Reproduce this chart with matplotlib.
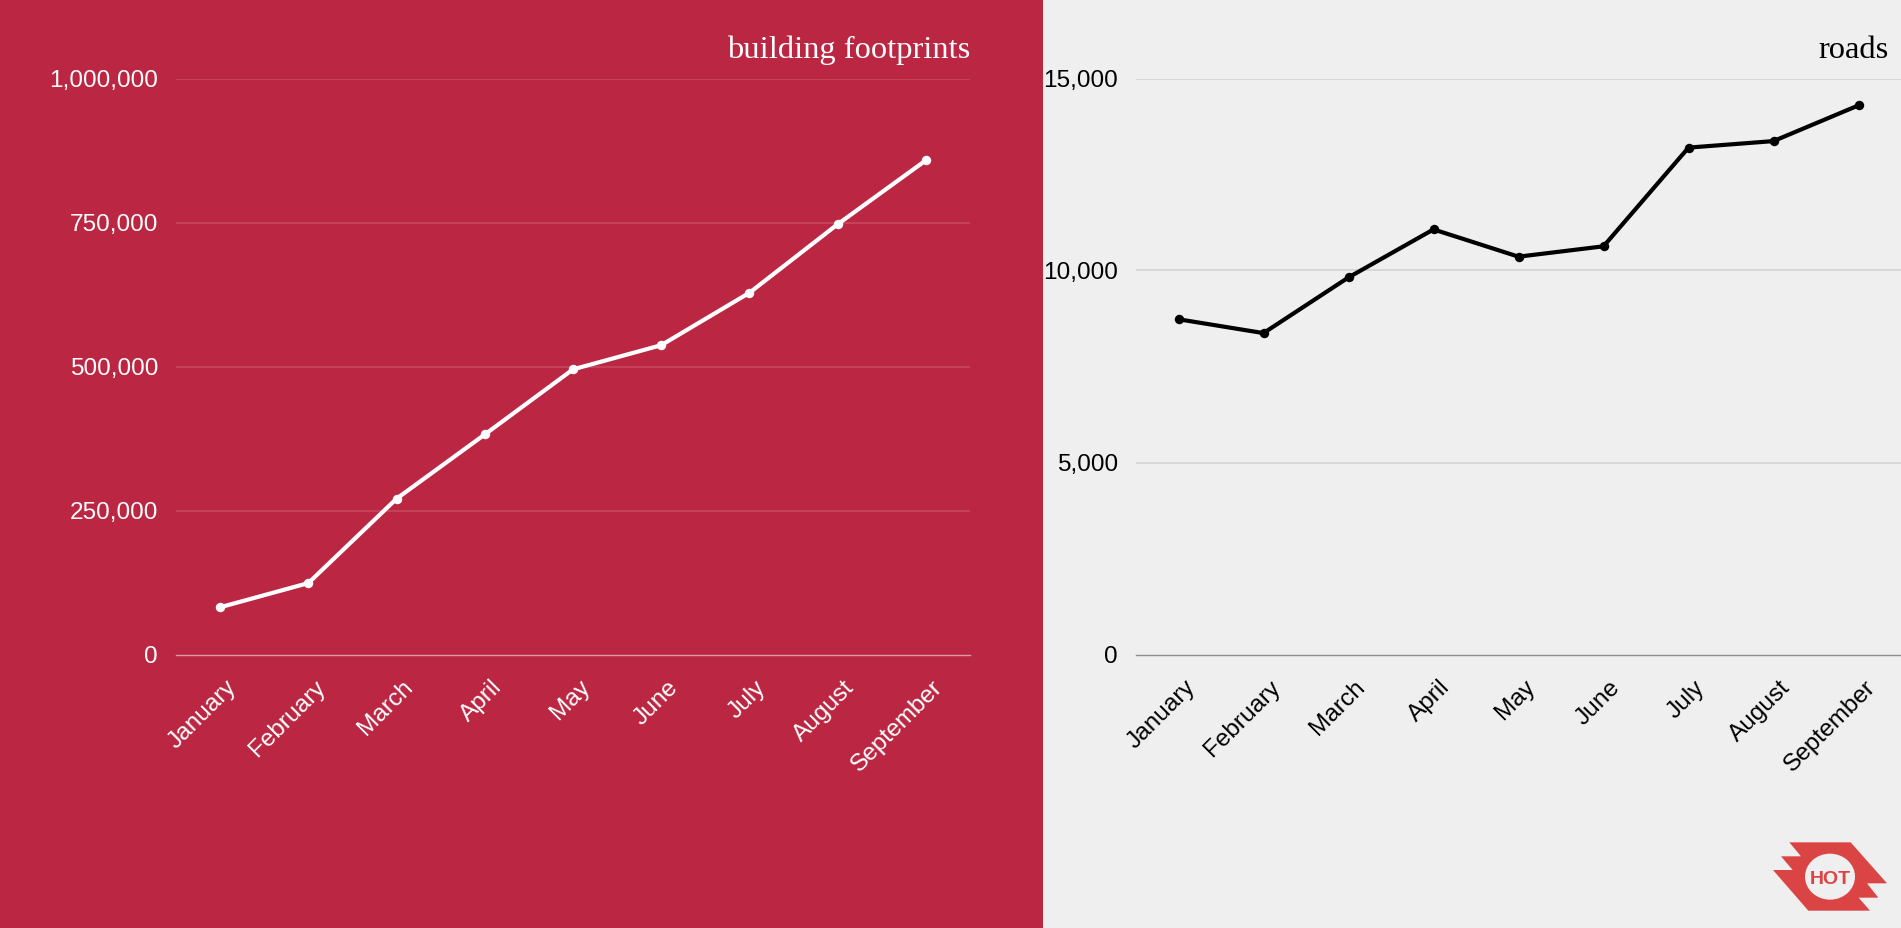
import matplotlib
matplotlib.use('agg')
import matplotlib.pyplot as plt
from matplotlib.patches import Rectangle, Polygon, Ellipse
from matplotlib.transforms import ScaledTranslation

months = ['January', 'February', 'March', 'April', 'May', 'June', 'July', 'August', 'September']
buildings = [82000, 124000, 270500, 382000, 495000, 537000, 628000, 747000, 858000]
roads = [8730, 8370, 9820, 11070, 10360, 10630, 13200, 13370, 14300]
building_ticks = [0, 250000, 500000, 750000, 1000000]
road_ticks = [0, 5000, 10000, 15000]

W, H = 1901, 929
RED = '#bb2742'
GREY = '#efefef'
LOGO = '#db4444'

plt.rcParams['font.family'] = ['Liberation Sans', 'DejaVu Sans']

fig = plt.figure(figsize=(W / 100, H / 100), dpi=100, facecolor=GREY)
fig.add_artist(Rectangle((0, 0), 1043 / W, 1, transform=fig.transFigure, color=RED, lw=0, zorder=-1))


# one panel, left/right in pixels
def panel(x0, x1, values, ticks, fg, grid, base, title, title_right):
    ax = fig.add_axes([x0 / W, (H - 655.5) / H, (x1 - x0) / W, 576 / H])
    ax.patch.set_alpha(0)
    for s in ax.spines.values():
        s.set_visible(False)
    ax.set_xlim(-0.5, 8.5)
    ax.set_ylim(0, ticks[-1])
    ax.set_axisbelow(True)

    for t in ticks[1:]:
        ax.axhline(t, color=grid, lw=1.1, zorder=1)
    ax.axhline(0, color=base, lw=1.0, zorder=1, clip_on=False)

    ax.plot(range(len(months)), values, color=fg, lw=3.0, marker='o', ms=6.8,
            mew=0, zorder=3, clip_on=False)

    ax.set_yticks(ticks)
    ax.set_yticklabels([f'{t:,}' for t in ticks], fontsize=17.6, color=fg)
    ax.set_xticks(range(len(months)))
    ax.set_xticklabels(months, fontsize=17.6, color=fg, rotation=45, ha='right',
                       rotation_mode='anchor')
    ax.tick_params(axis='y', length=0, pad=13)
    ax.tick_params(axis='x', length=0, pad=15)
    # labels sit a little right of the tick, value labels a touch higher
    shift = ScaledTranslation(4 / 72, 0, fig.dpi_scale_trans)
    for lab in ax.get_xticklabels():
        lab.set_transform(lab.get_transform() + shift)
    lift = ScaledTranslation(0, 0.8 / 72, fig.dpi_scale_trans)
    for lab in ax.get_yticklabels():
        lab.set_transform(lab.get_transform() + lift)

    fig.text(title_right / W, (H - 58) / H, title, ha='right', va='baseline', color=fg,
             fontsize=23.4, family=['Liberation Serif', 'DejaVu Serif'])
    return ax


panel(176, 970, buildings, building_ticks, 'white', '#c64b62', '#dd9aa7',
      'building footprints', 970)
panel(1136, 1901, roads, road_ticks, 'black', '#d0d0d0', '#8c8c8c', 'roads', 1889)


# HOT logo, crop of the reference scaled 3x
def logo_xy(zx, zy):
    return (1740 + zx / 3) / W, (H - (820 + zy / 3)) / H


outline = [(148, 70), (332, 70), (441, 193), (381, 193), (415, 236), (356, 236), (390, 275),
           (205, 275), (99, 153), (158, 153), (123, 112), (183, 112)]
fig.add_artist(Polygon([logo_xy(*p) for p in outline], closed=True, transform=fig.transFigure,
                       color=LOGO, lw=0))
fig.add_artist(Ellipse(logo_xy(270, 173), 50 / W, 46 / H, transform=fig.transFigure,
                       color=GREY, lw=0))
cx, cy = logo_xy(271, 174)
fig.text(cx, cy, 'HOT', ha='center', va='center_baseline', color=LOGO, fontsize=14,
         fontweight='bold')

plt.savefig('out.png', dpi=100, facecolor=fig.get_facecolor())
